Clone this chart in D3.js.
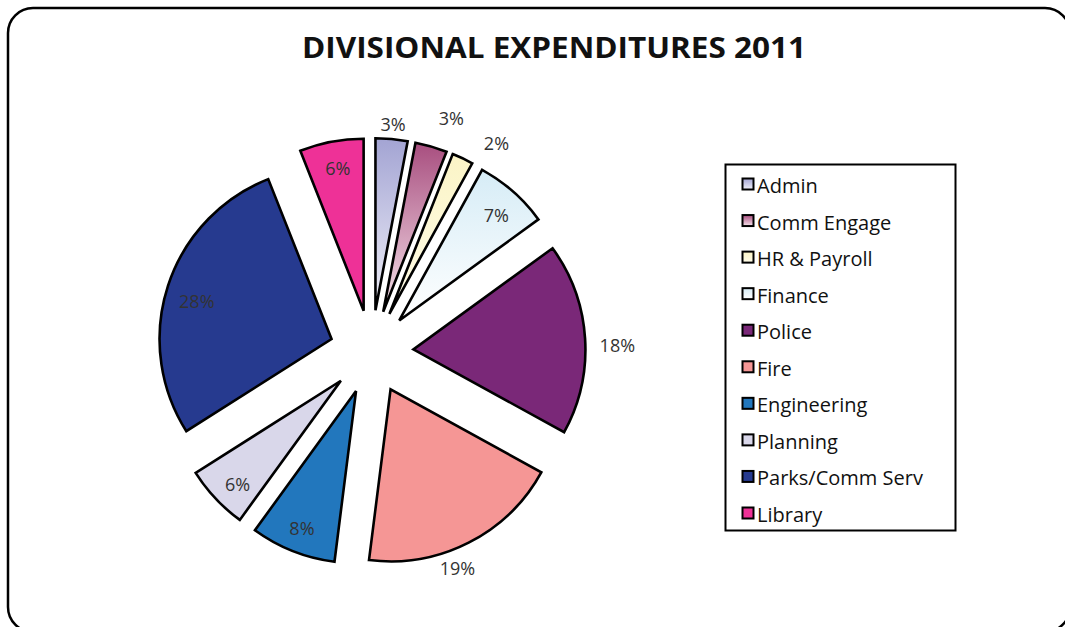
<!DOCTYPE html>
<html>
<head>
<meta charset="utf-8">
<script src="https://cdn.jsdelivr.net/npm/d3@7"></script>
<style>
  body { margin: 0; background: #fff; }
  svg { display: block; }
</style>
</head>
<body>
<svg id="chart" width="1065" height="627"></svg>
<script>
// Divisional expenditure shares, 2011 (percent of total)
const categories = ["Admin", "Comm Engage", "HR & Payroll", "Finance", "Police",
                    "Fire", "Engineering", "Planning", "Parks/Comm Serv", "Library"];
const shares = [3, 3, 2, 7, 18, 19, 8, 6, 28, 6];

// Slice fills: a pair means a vertical gradient (top colour, bottom colour)
const sliceFills = [
  ["#a3a4d3", "#f1f1f9"],
  ["#a84e7f", "#f6e3eb"],
  ["#fbf4c6", "#fffce9"],
  ["#d6ecf6", "#ffffff"],
  "#7a2878",
  "#f59695",
  "#2277bd",
  "#d9d7ea",
  "#263a8f",
  "#ee3197"
];

// Label placement per slice: distance from the slice tip and a small angular nudge (degrees)
const labelRadius = [187, 205, 202, 143, 204, 191, 147, 146, 140, 145];
const labelNudge  = [0, 3.2, 6.8, 1.3, 2.3, 6.5, 0, -1.8, -2.3, 0.5];

const svg = d3.select("#chart");
const defs = svg.append("defs");

// Rounded outer frame
svg.append("rect")
  .attr("x", 8).attr("y", 8)
  .attr("width", 1062).attr("height", 624)
  .attr("rx", 25).attr("ry", 25)
  .attr("fill", "#fff")
  .attr("stroke", "#000")
  .attr("stroke-width", 2.5);

// Title
svg.append("text")
  .attr("x", 554).attr("y", 58)
  .attr("text-anchor", "middle")
  .attr("textLength", 504)
  .attr("lengthAdjust", "spacingAndGlyphs")
  .style("font-family", "'Open Sans', sans-serif")
  .style("font-weight", 700)
  .style("font-size", "29px")
  .style("fill", "#111")
  .text("DIVISIONAL EXPENDITURES 2011");

// Gradients for the shaded slices
function fillFor(i) {
  const f = sliceFills[i];
  if (typeof f === "string") return f;
  return `url(#grad${i})`;
}
sliceFills.forEach((f, i) => {
  if (typeof f === "string") return;
  const g = defs.append("linearGradient")
    .attr("id", `grad${i}`)
    .attr("x1", 0).attr("y1", 0).attr("x2", 0).attr("y2", 1);
  g.append("stop").attr("offset", "0%").attr("stop-color", f[0]);
  g.append("stop").attr("offset", "100%").attr("stop-color", f[1]);
});

// Exploded pie
const cx = 371.5, cy = 352, R = 172, explode = 42;
const pie = d3.pie().sort(null).value(d => d)(shares);
const arc = d3.arc().innerRadius(0).outerRadius(R);

const polar = (r, a) => [r * Math.sin(a), -r * Math.cos(a)];

const slices = svg.append("g").attr("transform", `translate(${cx},${cy})`);

slices.selectAll("g.slice")
  .data(pie)
  .join("g")
  .attr("class", "slice")
  .attr("transform", d => {
    const mid = (d.startAngle + d.endAngle) / 2;
    const [dx, dy] = polar(explode, mid);
    return `translate(${dx},${dy})`;
  })
  .each(function (d, i) {
    const g = d3.select(this);
    g.append("path")
      .attr("d", arc(d))
      .attr("fill", fillFor(i))
      .attr("stroke", "#000")
      .attr("stroke-width", 2.6)
      .attr("stroke-linejoin", "miter");
    const mid = (d.startAngle + d.endAngle) / 2 + labelNudge[i] * Math.PI / 180;
    const [lx, ly] = polar(labelRadius[i], mid);
    g.append("text")
      .attr("x", lx).attr("y", ly)
      .attr("text-anchor", "middle")
      .attr("dominant-baseline", "central")
      .style("font-family", "'Open Sans', sans-serif")
      .style("font-size", "18px")
      .style("fill", "#333")
      .text(`${d.data}%`);
  });

// Legend
const legend = svg.append("g");
legend.append("rect")
  .attr("x", 725.5).attr("y", 164.5)
  .attr("width", 230).attr("height", 366)
  .attr("fill", "#fff")
  .attr("stroke", "#000")
  .attr("stroke-width", 2);

const rowY = d3.scalePoint().domain(categories).range([193, 522]);

const items = legend.selectAll("g.item")
  .data(categories)
  .join("g")
  .attr("class", "item")
  .attr("transform", d => `translate(0,${rowY(d)})`);

items.append("rect")
  .attr("x", 742.5).attr("y", -14.5)
  .attr("width", 11).attr("height", 11)
  .attr("fill", (d, i) => fillFor(i))
  .attr("stroke", "#000")
  .attr("stroke-width", 2);

items.append("text")
  .attr("x", 757).attr("y", 0)
  .style("font-family", "'Open Sans', sans-serif")
  .style("font-size", "20px")
  .style("fill", "#111")
  .text(d => d);
</script>
</body>
</html>
